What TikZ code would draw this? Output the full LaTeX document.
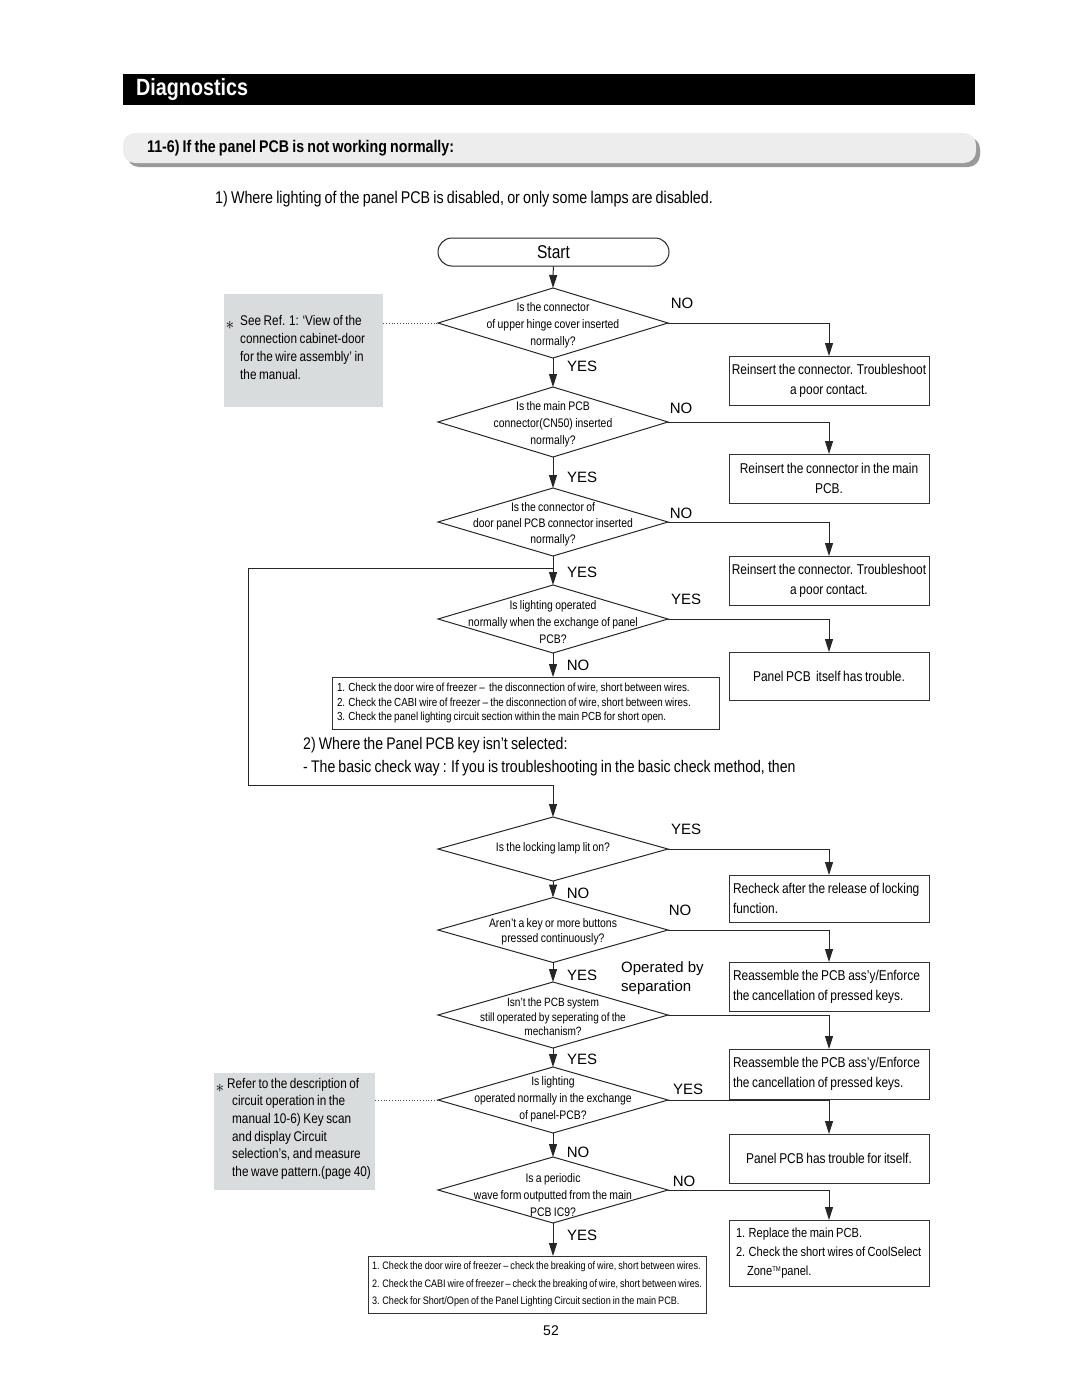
\documentclass[tikz,border=0pt]{standalone}
\usepackage{fontspec}
\setmainfont{Liberation Sans}
\newfontfamily\cn{Liberation Sans}[FakeStretch=0.84,WordSpace=0.8]
\usetikzlibrary{arrows.meta,shapes.geometric}
\definecolor{notegray}{HTML}{D9DCDC}
\definecolor{barfill}{HTML}{EDEDED}
\definecolor{barshadow}{HTML}{9A9A9A}
\begin{document}
\begin{tikzpicture}[x=1pt,y=-1pt,
  ln/.style={line width=1pt,draw=black!85},
  arr/.style={ln,-{Triangle[length=13pt,width=8pt]}},
  dia/.style={diamond,draw=black!85,line width=1pt,minimum width=230pt,minimum height=#1,inner sep=0pt,outer sep=0pt},
  dtext/.style={font=\cn\fontsize{12.4}{17}\selectfont,align=center,inner sep=0pt},
  box/.style={draw=black!80,line width=1pt,minimum width=200pt,minimum height=#1,font=\cn\fontsize{14.2}{20}\selectfont,align=center,inner sep=2pt,outer sep=0pt},
  lbox/.style={box=#1,text width=192pt,align=flush left},
  lab/.style={font=\fontsize{15}{15}\selectfont,inner sep=0pt},
  chk/.style={draw=black!80,line width=1pt,align=flush left,inner xsep=5pt,inner ysep=0pt,outer sep=0pt},
  note/.style={fill=notegray,inner sep=0pt},
  notetext/.style={font=\cn\fontsize{14}{18}\selectfont,align=flush left,inner sep=0pt,anchor=north west},
  star/.style={inner sep=0pt,font=\fontsize{17}{17}\selectfont},
  dot/.style={dotted,line width=0.8pt,draw=black!70}
]
\useasboundingbox (0,0) rectangle (1080,1397);
\fill[white] (0,0) rectangle (1080,1397);

% header
\fill[black] (123,74) rectangle (975,105);
\node[anchor=west,text=white,font=\cn\bfseries\fontsize{23.5}{23.5}\selectfont,inner sep=0pt] (hdr) at (136,89) {Diagnostics};
\fill[barshadow,rounded corners=12pt] (127,137) rectangle (980,167);
\fill[barfill,rounded corners=12pt] (123,133) rectangle (976,163);
\node[anchor=west,font=\cn\bfseries\fontsize{16.9}{16.9}\selectfont,inner sep=0pt] (sub) at (147,148) {11-6) If the panel PCB is not working normally:};
\node[anchor=west,font=\cn\fontsize{17}{17}\selectfont,inner sep=0pt] (p1) at (215,199) {1) Where lighting of the panel PCB is disabled, or only some lamps are disabled.};

% start
\node[draw=black!85,line width=1pt,rounded corners=14pt,minimum width=231pt,minimum height=28pt,inner sep=0pt,font=\cn\fontsize{18.5}{18.5}\selectfont] (start) at (553.5,252) {Start};

% diamonds
\node[dia=70pt] (d1) at (553,323) {};
\node[dtext] (t1) at (553,325) {Is the connector\\of upper hinge cover inserted\\normally?};
\node[dia=70pt] (d2) at (553,422) {};
\node[dtext] (t2) at (553,424) {Is the main PCB\\connector(CN50) inserted\\normally?};
\node[dia=68pt] (d3) at (553,522) {};
\node[dtext,font=\cn\fontsize{12.4}{16}\selectfont] (t3) at (553,524) {Is the connector of\\door panel PCB connector inserted\\normally?};
\node[dia=68pt] (d4) at (553,619) {};
\node[dtext] (t4) at (553,622) {Is lighting operated\\normally when the exchange of panel\\PCB?};

\node[dia=64pt] (d5) at (553,849) {};
\node[dtext] (t5) at (553,848) {Is the locking lamp lit on?};
\node[dia=65pt] (d6) at (553,930) {};
\node[dtext,font=\cn\fontsize{12.4}{15}\selectfont] (t6) at (553,932) {Aren’t a key or more buttons\\pressed continuously?};
\node[dia=66pt] (d7) at (553,1015) {};
\node[dtext,font=\cn\fontsize{12}{14.5}\selectfont] (t7) at (553,1017) {Isn’t the PCB system\\still operated by seperating of the\\mechanism?};
\node[dia=66pt] (d8) at (553,1100) {};
\node[dtext] (t8) at (553,1099) {Is lighting\\operated normally in the exchange\\of panel-PCB?};
\node[dia=66pt] (d9) at (553,1190) {};
\node[dtext] (t9) at (553,1195) {Is a periodic\\wave form outputted from the main\\PCB IC9?};

% right boxes
\node[box=49pt] (b1) at (829,380.5) {Reinsert the connector. Troubleshoot\\a poor contact.};
\node[box=49pt] (b2) at (829,478.5) {Reinsert the connector in the main\\PCB.};
\node[box=49pt] (b3) at (829,580.5) {Reinsert the connector. Troubleshoot\\a poor contact.};
\node[box=48pt] (b4) at (829,676) {Panel PCB \ itself has trouble.};
\node[lbox=47pt] (b5) at (829,898.5) {Recheck after the release of locking\\function.};
\node[lbox=49pt] (b6) at (829,986.5) {Reassemble the PCB ass’y/Enforce\\the cancellation of pressed keys.};
\node[lbox=50pt] (b7) at (829,1074) {Reassemble the PCB ass’y/Enforce\\the cancellation of pressed keys.};
\node[box=49pt] (b8) at (829,1158.5) {Panel PCB has trouble for itself.};
\node[lbox=66pt,font=\cn\fontsize{13.2}{19}\selectfont] (b9) at (829,1253) {\hspace*{3pt}1. Replace the main PCB.\\\hspace*{3pt}2. Check the short wires of CoolSelect\\\hspace*{14pt}Zone\textsuperscript{\fontsize{7}{7}\selectfont TM}panel.};

% check boxes
\node[chk,minimum height=52pt,text width=377pt,font=\cn\fontsize{11.7}{14.5}\selectfont] (c1) at (525.5,703) {1. Check the door wire of freezer – \ the disconnection of wire, short between wires.\\2. Check the CABI wire of freezer – the disconnection of wire, short between wires.\\3. Check the panel lighting circuit section within the main PCB for short open.};
\node[chk,inner xsep=4pt,minimum height=57pt,text width=330pt,font=\cn\fontsize{10.8}{17.5}\selectfont] (c2) at (537,1284.5) {1. Check the door wire of freezer – check the breaking of wire, short between wires.\\2. Check the CABI wire of freezer – check the breaking of wire, short between wires.\\3. Check for Short/Open of the Panel Lighting Circuit section in the main PCB.};

% notes
\node[note,minimum width=159pt,minimum height=113pt] (n1) at (303.5,350.5) {};
\node[star] (n1s) at (230,325) {$\ast$};
\node[notetext] (n1t) at (240,315) {See Ref. 1: ‘View of the\\connection cabinet-door\\for the wire assembly’ in\\the manual.};
\node[note,minimum width=161pt,minimum height=117pt] (n2) at (294.5,1131.5) {};
\node[star] (n2s) at (220,1088) {$\ast$};
\node[notetext,font=\cn\fontsize{14}{17.6}\selectfont] (n2t) at (232,1078) {\hspace*{-5pt}Refer to the description of\\circuit operation in the\\manual 10-6) Key scan\\and display Circuit\\selection’s, and measure\\the wave pattern.(page 40)};
\draw[dot] (n1.east |- d1.west) -- (d1.west);
\draw[dot] (n2.east |- d8.west) -- (d8.west);

% middle texts
\node[anchor=west,font=\cn\fontsize{16.8}{16.8}\selectfont,inner sep=0pt] (p2) at (303,745) {2) Where the Panel PCB key isn’t selected:};
\node[anchor=west,font=\cn\fontsize{16.8}{16.8}\selectfont,inner sep=0pt] (p3) at (303,768) {- The basic check way : If you is troubleshooting in the basic check method, then};
\node[font=\fontsize{14}{14}\selectfont,inner sep=0pt] (pg) at (551,1331) {52};

% vertical flow
\draw[arr] (start) -- (d1.north);
\draw[arr] (d1.south) -- (d2.north);
\draw[arr] (d2.south) -- (d3.north);
\draw[arr] (d3.south) -- (d4.north);
\draw[arr] (d4.south) -- (c1.north -| d4.south);
\draw[arr] (d5.south) -- (d6.north);
\draw[arr] (d6.south) -- (d7.north);
\draw[arr] (d7.south) -- (d8.north);
\draw[arr] (d8.south) -- (d9.north);
\draw[arr] (d9.south) -- (c2.north -| d9.south);

% side flow
\draw[arr] (d1.east) -| (b1.north);
\draw[arr] (d2.east) -| (b2.north);
\draw[arr] (d3.east) -| (b3.north);
\draw[arr] (d4.east) -| (b4.north);
\draw[arr] (d5.east) -| (b5.north);
\draw[arr] (d6.east) -| (b6.north);
\draw[arr] (d7.east) -| (b7.north);
\draw[arr] (d8.east) -| (b8.north);
\draw[arr] (d9.east) -| (b9.north);

% loop
\coordinate (j1) at (553,568);
\coordinate (lc1) at (248,568);
\coordinate (lc2) at (248,785);
\coordinate (j2) at (553,785);
\draw[ln] (j1) -- (lc1) -- (lc2) -- (j2);
\draw[arr] (j2) -- (d5.north);

% labels
\node[lab] (l1) at (682,303) {NO};
\node[lab] (l2) at (582,366) {YES};
\node[lab] (l3) at (681,408) {NO};
\node[lab] (l4) at (582,477) {YES};
\node[lab] (l5) at (681,513) {NO};
\node[lab] (l6) at (582,572) {YES};
\node[lab] (l7) at (686,599) {YES};
\node[lab] (l8) at (578,665) {NO};
\node[lab] (l9) at (686,829) {YES};
\node[lab] (l10) at (578,893) {NO};
\node[lab] (l11) at (680,910) {NO};
\node[lab] (l12) at (582,975) {YES};
\node[lab,anchor=west,align=left,font=\fontsize{15}{19}\selectfont] (l13) at (621,978) {Operated by\\separation};
\node[lab] (l14) at (582,1059) {YES};
\node[lab] (l15) at (688,1089) {YES};
\node[lab] (l16) at (578,1152) {NO};
\node[lab] (l17) at (684,1181) {NO};
\node[lab] (l18) at (582,1235) {YES};
\end{tikzpicture}
\end{document}
